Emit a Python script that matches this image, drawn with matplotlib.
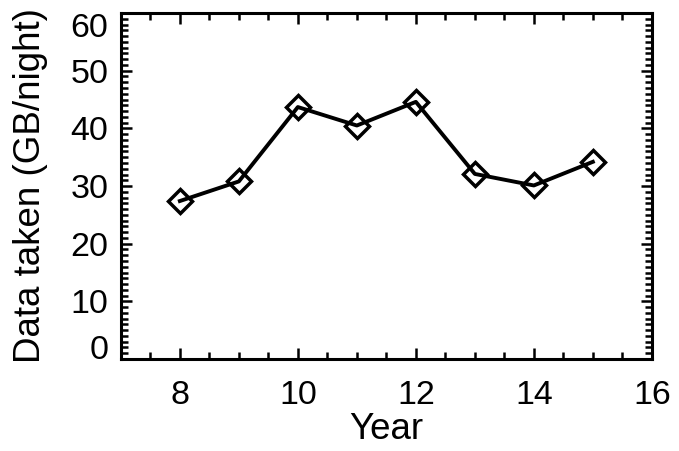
import matplotlib
matplotlib.use("Agg")
import matplotlib.pyplot as plt
from matplotlib.ticker import MultipleLocator

years = [8, 9, 10, 11, 12, 13, 14, 15]
data_gb = [27.4, 30.8, 43.7, 40.5, 44.6, 32.1, 30.1, 34.2]
xticks = [8, 10, 12, 14, 16]
yticks = [0, 10, 20, 30, 40, 50, 60]

plt.rcParams['font.family'] = ['Liberation Sans', 'DejaVu Sans']

fig = plt.figure(figsize=(6.79, 4.51), dpi=100)
ax = fig.add_axes([0.178, 0.204, 0.782, 0.767])
ax.plot(years, data_gb, color='black', lw=2.8, marker='D', ms=12,
        mfc='none', mec='black', mew=2.5)
ax.set_xlim(7, 16)
ax.set_ylim(0, 60)
ax.set_xticks(xticks)
ax.set_yticks(yticks)
ax.xaxis.set_minor_locator(MultipleLocator(0.5))
ax.yaxis.set_minor_locator(MultipleLocator(1))
for s in ax.spines.values():
    s.set_linewidth(2.2)
ax.tick_params(which='both', direction='in', top=True, right=True, width=1.8)
ax.tick_params(which='major', length=8, labelsize=24.5)
ax.tick_params(axis='y', which='major', pad=9)
ax.tick_params(axis='x', which='major', pad=15)
ax.tick_params(which='minor', length=5)
ylabels = ax.get_yticklabels()
ylabels[0].set_va('baseline')
ylabels[-1].set_va('top')
ax.set_xlabel('Year', fontsize=26.5, labelpad=1)
ax.set_ylabel('Data taken (GB/night)', fontsize=26.5, labelpad=16)
fig.savefig('out.png', dpi=100)
